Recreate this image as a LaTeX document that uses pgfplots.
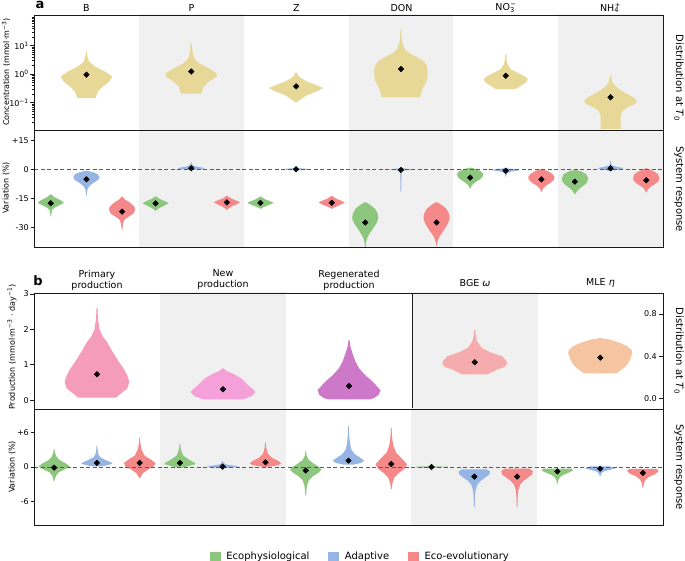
\documentclass[border=0pt]{standalone}
\usepackage{fontspec}
\setmainfont{DejaVu Sans}
\usepackage{pgfplots}
\pgfplotsset{compat=1.18}

\definecolor{khaki}{RGB}{232,216,152}
\definecolor{cg}{RGB}{141,198,125}
\definecolor{cb}{RGB}{150,180,228}
\definecolor{cr}{RGB}{245,136,136}
\definecolor{cpp}{RGB}{245,156,186}
\definecolor{cnp}{RGB}{246,160,218}
\definecolor{crp}{RGB}{205,120,200}
\definecolor{cbge}{RGB}{246,172,172}
\definecolor{cmle}{RGB}{245,196,160}
\definecolor{band}{RGB}{240,240,240}
\definecolor{frame}{RGB}{25,25,25}
\definecolor{zline}{RGB}{90,90,90}

% violin drawn as two mirrored halves: #1 centre, #2 width scale, #3 colour, #4 table (v = value, w = half width)
\newcommand{\violin}[4]{%
  \addplot[fill=#3, draw=none, forget plot] table[row sep=\\, x expr={#1+#2*\thisrow{w}}, y=v] {#4};
  \addplot[fill=#3, draw=none, forget plot] table[row sep=\\, x expr={#1-#2*\thisrow{w}}, y=v] {#4};
}
\newcommand{\lab}{\fontsize{9.5}{11}\selectfont}
\newcommand{\tlab}{\fontsize{8}{9.5}\selectfont}

\pgfplotsset{
  vbase/.style={scale only axis, axis on top, clip=true, anchor=south west,
    xtick=\empty, tick align=outside, ytick pos=left,
    major tick length=3.5pt, minor tick length=2pt,
    tick style={frame, line width=0.6pt},
    axis line style={frame, line width=0.9pt},
    yticklabel style={font=\tlab, inner sep=1.5pt},
    /pgf/number format/assume math mode=true},
  med/.style={only marks, mark=square*, mark size=2pt, mark options={rotate=45, fill=black, draw=black}, forget plot},
  zl/.style={dash pattern=on 4pt off 2.5pt, color=zline, line width=0.8pt, forget plot},
}

\begin{document}
\begin{tikzpicture}
\useasboundingbox (0pt,0pt) rectangle (685pt,561pt);

% ---------------- panel a: distribution ----------------
\begin{axis}[vbase, at={(34pt,431pt)}, width=629pt, height=115pt,
  xmin=-0.5, xmax=5.5, ymode=log, ymin=0.011, ymax=120,
  ytick={0.1,1,10}, yticklabels={10\textsuperscript{−1},10\textsuperscript{0},10\textsuperscript{1}},
  minor ytick={0.02,0.03,0.04,0.05,0.06,0.07,0.08,0.09,0.2,0.3,0.4,0.5,0.6,0.7,0.8,0.9,2,3,4,5,6,7,8,9,20,30,40,50,60,70,80,90,100}]
\addplot[fill=band, draw=none, forget plot] coordinates {(0.5,0.001) (1.5,0.001) (1.5,1000) (0.5,1000)};
\addplot[fill=band, draw=none, forget plot] coordinates {(2.5,0.001) (3.5,0.001) (3.5,1000) (2.5,1000)};
\addplot[fill=band, draw=none, forget plot] coordinates {(4.5,0.001) (5.5,0.001) (5.5,1000) (4.5,1000)};
\violin{0}{1}{khaki}{v w\\ 6.3 -0.003\\ 6.3 0.003\\ 4.2 0.01\\ 2.81 0.025\\ 1.88 0.08\\ 1.25 0.175\\ 0.84 0.245\\ 0.56 0.22\\ 0.373 0.16\\ 0.25 0.11\\ 0.146 0.087\\ 0.146 -0.003\\}
\violin{1}{1}{khaki}{v w\\ 12.4 -0.003\\ 12.4 0.003\\ 7.2 0.01\\ 3.7 0.025\\ 2.47 0.07\\ 1.65 0.16\\ 1.10 0.24\\ 0.84 0.245\\ 0.56 0.17\\ 0.373 0.12\\ 0.207 0.095\\ 0.207 -0.003\\}
\violin{2}{1}{khaki}{v w\\ 1.16 -0.003\\ 1.16 0.003\\ 0.80 0.03\\ 0.56 0.1\\ 0.43 0.18\\ 0.33 0.26\\ 0.25 0.2\\ 0.18 0.1\\ 0.127 0.04\\ 0.106 0.01\\ 0.106 -0.003\\}
\violin{3}{1}{khaki}{v w\\ 38.5 -0.003\\ 38.5 0.003\\ 21.3 0.006\\ 12.4 0.015\\ 7.2 0.04\\ 5.5 0.08\\ 4.2 0.14\\ 2.81 0.22\\ 1.88 0.25\\ 1.25 0.255\\ 0.64 0.25\\ 0.33 0.21\\ 0.154 0.18\\ 0.154 -0.003\\}
\violin{4}{1}{khaki}{v w\\ 5.1 -0.003\\ 5.1 0.003\\ 3.2 0.008\\ 2.15 0.02\\ 1.44 0.055\\ 0.96 0.15\\ 0.75 0.2\\ 0.64 0.21\\ 0.5 0.19\\ 0.43 0.16\\ 0.30 0.095\\ 0.30 -0.003\\}
\violin{5}{1}{khaki}{v w\\ 0.885 -0.003\\ 0.885 0.003\\ 0.56 0.015\\ 0.40 0.04\\ 0.28 0.09\\ 0.219 0.14\\ 0.16 0.21\\ 0.125 0.245\\ 0.105 0.25\\ 0.085 0.22\\ 0.065 0.15\\ 0.05 0.11\\ 0.035 0.095\\ 0.008 0.095\\ 0.008 -0.003\\}
\addplot[med] coordinates {(0,0.96) (1,1.25) (2,0.373) (3,1.52) (4,0.885) (5,0.155)};
\end{axis}

% ---------------- panel a: response ----------------
\begin{axis}[vbase, at={(34pt,314pt)}, width=629pt, height=117pt,
  xmin=-0.5, xmax=5.5, ymin=-40.2, ymax=20.3,
  ytick={-30,-15,0,15}, yticklabels={-30,-15,0,+15}]
\addplot[fill=band, draw=none, forget plot] coordinates {(0.5,-50) (1.5,-50) (1.5,50) (0.5,50)};
\addplot[fill=band, draw=none, forget plot] coordinates {(2.5,-50) (3.5,-50) (3.5,50) (2.5,50)};
\addplot[fill=band, draw=none, forget plot] coordinates {(4.5,-50) (5.5,-50) (5.5,50) (4.5,50)};
\violin{-0.34}{0.125}{cg}{v w\\ -13 -0.02\\ -13 0.02\\ -14.5 0.3\\ -16 0.75\\ -17.3 1\\ -18.5 0.7\\ -19.8 0.3\\ -21 0.1\\ -23 0.04\\ -24.5 0.01\\ -24.5 -0.02\\}
\violin{0}{0.125}{cb}{v w\\ -0.9 -0.02\\ -0.9 0.1\\ -1.5 0.5\\ -2.5 0.85\\ -4 1\\ -5.5 0.9\\ -7 0.55\\ -8.5 0.25\\ -10 0.1\\ -11.5 0.05\\ -13.7 0.01\\ -13.7 -0.02\\}
\violin{0.34}{0.125}{cr}{v w\\ -14.1 -0.02\\ -14.1 0.02\\ -15.5 0.2\\ -17.5 0.65\\ -19.5 0.95\\ -21 1\\ -23 0.85\\ -24.5 0.5\\ -26 0.2\\ -28 0.08\\ -31.4 0.01\\ -31.4 -0.02\\}
\violin{0.66}{0.125}{cg}{v w\\ -14.1 -0.02\\ -14.1 0.03\\ -15.5 0.35\\ -16.8 0.8\\ -17.6 1\\ -18.5 0.75\\ -19.8 0.35\\ -21 0.08\\ -21.6 0.01\\ -21.6 -0.02\\}
\violin{1}{0.125}{cb}{v w\\ 3.6 -0.02\\ 3.6 0.01\\ 2.5 0.05\\ 1.5 0.3\\ 0.8 0.9\\ 0.3 1\\ -0.1 0.6\\ -0.4 0.01\\ -0.4 -0.02\\}
\violin{1.34}{0.125}{cr}{v w\\ -13.8 -0.02\\ -13.8 0.03\\ -15.2 0.35\\ -16.4 0.8\\ -17.1 1\\ -18 0.75\\ -19.3 0.35\\ -20.5 0.08\\ -21.1 0.01\\ -21.1 -0.02\\}
\violin{1.66}{0.125}{cg}{v w\\ -14.1 -0.02\\ -14.1 0.03\\ -15.5 0.35\\ -16.7 0.8\\ -17.4 1\\ -18.2 0.75\\ -19.3 0.35\\ -20.1 0.08\\ -20.5 0.01\\ -20.5 -0.02\\}
\violin{2}{0.125}{cb}{v w\\ 0.6 -0.02\\ 0.6 0.01\\ 0.2 0.9\\ 0 1\\ -0.2 0.9\\ -0.6 0.01\\ -0.6 -0.02\\}
\violin{2.34}{0.125}{cr}{v w\\ -13.8 -0.02\\ -13.8 0.03\\ -15.2 0.35\\ -16.5 0.8\\ -17.3 1\\ -18.1 0.75\\ -19.3 0.35\\ -20.1 0.08\\ -20.5 0.01\\ -20.5 -0.02\\}
\violin{2.66}{0.125}{cg}{v w\\ -17.1 -0.02\\ -17.1 0.05\\ -18.5 0.4\\ -20.5 0.75\\ -23 0.95\\ -25.5 1\\ -28 0.85\\ -30.5 0.6\\ -33 0.35\\ -35.5 0.15\\ -38 0.05\\ -41 0.02\\ -41 -0.02\\}
\violin{3}{0.125}{cb}{v w\\ 0.6 -0.02\\ 0.6 0.02\\ 0.2 0.5\\ -0.1 1\\ -0.5 0.4\\ -1 0.08\\ -2 0.04\\ -6 0.03\\ -11.6 0.01\\ -11.6 -0.02\\}
\violin{3.34}{0.125}{cr}{v w\\ -17.1 -0.02\\ -17.1 0.05\\ -18.5 0.4\\ -20.5 0.75\\ -23 0.95\\ -25 1\\ -27.5 0.9\\ -30 0.7\\ -32.5 0.45\\ -35 0.2\\ -37.5 0.07\\ -39.5 0.02\\ -39.5 -0.02\\}
\violin{3.66}{0.125}{cg}{v w\\ 0.8 -0.02\\ 0.8 0.05\\ 0 0.5\\ -1.2 0.85\\ -2.5 1\\ -3.8 0.95\\ -5 0.8\\ -6.3 0.5\\ -7.5 0.25\\ -8.7 0.1\\ -9.9 0.02\\ -9.9 -0.02\\}
\violin{4}{0.125}{cb}{v w\\ 0.5 -0.02\\ 0.5 0.05\\ 0 0.8\\ -0.6 1\\ -1.2 0.4\\ -2 0.1\\ -3 0.04\\ -3.8 0.01\\ -3.8 -0.02\\}
\violin{4.34}{0.125}{cr}{v w\\ 0 -0.02\\ 0 0.05\\ -1 0.5\\ -2.5 0.85\\ -4 1\\ -5.5 0.95\\ -7 0.7\\ -8.5 0.35\\ -10 0.12\\ -11.6 0.02\\ -11.6 -0.02\\}
\violin{4.66}{0.125}{cg}{v w\\ -0.35 -0.02\\ -0.35 0.05\\ -1.2 0.5\\ -2.5 0.85\\ -4.5 1\\ -6.5 0.95\\ -8 0.75\\ -9.5 0.45\\ -11 0.2\\ -12.8 0.02\\ -12.8 -0.02\\}
\violin{5}{0.125}{cb}{v w\\ 4.3 -0.02\\ 4.3 0.01\\ 3 0.04\\ 2 0.1\\ 1.2 0.5\\ 0.6 1\\ 0 0.8\\ -0.5 0.3\\ -0.9 0.01\\ -0.9 -0.02\\}
\violin{5.34}{0.125}{cr}{v w\\ 0.5 -0.02\\ 0.5 0.05\\ -0.8 0.5\\ -2.5 0.9\\ -4.5 1\\ -6 0.95\\ -7.5 0.7\\ -9 0.35\\ -10.5 0.12\\ -12 0.02\\ -12 -0.02\\}
\addplot[zl] coordinates {(-0.5,0) (5.5,0)};
\addplot[med] coordinates {(-0.34,-17.6) (0,-5.2) (0.34,-21.9) (0.66,-17.6) (1,0.5) (1.34,-17.1) (1.66,-17.4) (2,0) (2.34,-17.3) (2.66,-27.5) (3,-0.37) (3.34,-27.5) (3.66,-4.3) (4,-0.8) (4.34,-5.2) (4.66,-6.4) (5,0.5) (5.34,-5.7)};
\end{axis}

% ---------------- panel b: distribution (production) ----------------
\begin{axis}[vbase, at={(34pt,152pt)}, width=378pt, height=116pt,
  xmin=-0.5, xmax=2.5, ymin=-0.25, ymax=3.03,
  ytick={0,1,2,3}, yticklabels={0,1,2,3}]
\addplot[fill=band, draw=none, forget plot] coordinates {(0.5,-1) (1.5,-1) (1.5,4) (0.5,4)};
\violin{0}{1}{cpp}{v w\\ 2.6 -0.003\\ 2.6 0.003\\ 2.3 0.008\\ 2.0 0.02\\ 1.8 0.045\\ 1.64 0.08\\ 1.45 0.11\\ 1.26 0.143\\ 1.1 0.17\\ 0.9 0.21\\ 0.7 0.24\\ 0.52 0.257\\ 0.33 0.24\\ 0.19 0.19\\ 0.07 0.15\\ 0.07 -0.003\\}
\violin{1}{1}{cnp}{v w\\ 0.9 -0.003\\ 0.9 0.003\\ 0.82 0.03\\ 0.75 0.08\\ 0.61 0.146\\ 0.42 0.2\\ 0.3 0.24\\ 0.23 0.257\\ 0.12 0.23\\ 0.05 0.18\\ 0.02 0.15\\ 0.02 -0.003\\}
\violin{2}{1}{crp}{v w\\ 1.7 -0.003\\ 1.7 0.003\\ 1.5 0.012\\ 1.3 0.03\\ 1.1 0.05\\ 0.9 0.08\\ 0.7 0.13\\ 0.55 0.18\\ 0.4 0.22\\ 0.28 0.25\\ 0.15 0.235\\ 0.06 0.2\\ 0.02 0.16\\ 0.02 -0.003\\}
\addplot[med] coordinates {(0,0.73) (1,0.31) (2,0.4)};
\end{axis}

% ---------------- panel b: distribution (efficiencies) ----------------
\begin{axis}[vbase, at={(412pt,152pt)}, width=251pt, height=116pt,
  xmin=2.5, xmax=4.5, ymin=-0.1, ymax=1.0, ytick pos=right, tick align=inside,
  major tick length=4pt,
  yticklabel style={anchor=east, xshift=-4.5pt},
  ytick={0,0.4,0.8}, yticklabels={0.0,0.4,0.8}]
\addplot[fill=band, draw=none, forget plot] coordinates {(2.5,-1) (3.5,-1) (3.5,2) (2.5,2)};
\violin{3}{1}{cbge}{v w\\ 0.65 -0.003\\ 0.65 0.003\\ 0.6 0.008\\ 0.54 0.02\\ 0.48 0.055\\ 0.44 0.12\\ 0.4 0.218\\ 0.36 0.25\\ 0.33 0.258\\ 0.3 0.24\\ 0.27 0.17\\ 0.24 0.12\\ 0.228 0.1\\ 0.228 -0.003\\}
\violin{4}{1}{cmle}{v w\\ 0.571 -0.003\\ 0.571 0.01\\ 0.56 0.07\\ 0.53 0.15\\ 0.5 0.21\\ 0.46 0.25\\ 0.43 0.256\\ 0.4 0.245\\ 0.37 0.24\\ 0.33 0.22\\ 0.3 0.2\\ 0.27 0.165\\ 0.238 0.13\\ 0.238 -0.003\\}
\addplot[med] coordinates {(3,0.343) (4,0.387)};
\end{axis}

% ---------------- panel b: response ----------------
\begin{axis}[vbase, at={(34pt,36pt)}, width=629pt, height=116pt,
  xmin=-0.5, xmax=4.5, ymin=-10, ymax=10,
  ytick={-6,0,6}, yticklabels={-6,0,+6},
  legend style={at={(0.519,-0.27)}, anchor=center, draw=none, fill=none,
    font=\fontsize{10}{12}\selectfont, legend columns=3,
    /tikz/every odd column/.append style={column sep=4pt},
    /tikz/every even column/.append style={column sep=17pt}},
  legend cell align=left]
\addplot[fill=band, draw=none, forget plot] coordinates {(0.5,-20) (1.5,-20) (1.5,20) (0.5,20)};
\addplot[fill=band, draw=none, forget plot] coordinates {(2.5,-20) (3.5,-20) (3.5,20) (2.5,20)};
\violin{-0.34}{0.125}{cg}{v w\\ 3.1 -0.02\\ 3.1 0.01\\ 2.5 0.05\\ 1.8 0.15\\ 1.2 0.35\\ 0.6 0.75\\ 0.1 1\\ -0.4 0.7\\ -0.9 0.3\\ -1.5 0.12\\ -2.0 0.06\\ -2.5 0.01\\ -2.5 -0.02\\}
\violin{0}{0.125}{cb}{v w\\ 3.7 -0.02\\ 3.7 0.01\\ 3.0 0.04\\ 2.3 0.08\\ 1.7 0.2\\ 1.2 0.55\\ 0.8 0.9\\ 0.6 1\\ 0.4 0.8\\ 0.2 0.5\\ 0.1 0.2\\ 0.1 -0.02\\}
\violin{0.34}{0.125}{cr}{v w\\ 5 -0.02\\ 5 0.01\\ 4 0.05\\ 3 0.12\\ 2 0.3\\ 1.3 0.7\\ 0.7 1\\ 0.1 0.9\\ -0.5 0.5\\ -1.1 0.2\\ -1.9 0.02\\ -1.9 -0.02\\}
\violin{0.66}{0.125}{cg}{v w\\ 4 -0.02\\ 4 0.01\\ 3 0.06\\ 2 0.2\\ 1.3 0.55\\ 0.8 0.9\\ 0.5 1\\ 0.2 0.6\\ -0.17 0.1\\ -0.17 -0.02\\}
\violin{1}{0.125}{cb}{v w\\ 1.0 -0.02\\ 1.0 0.01\\ 0.7 0.05\\ 0.4 0.25\\ 0.2 0.8\\ 0.05 1\\ -0.05 0.7\\ -0.2 0.05\\ -0.2 -0.02\\}
\violin{1.34}{0.125}{cr}{v w\\ 4.26 -0.02\\ 4.26 0.01\\ 3.3 0.05\\ 2.3 0.15\\ 1.6 0.4\\ 1.0 0.85\\ 0.6 1\\ 0.3 0.8\\ 0 0.1\\ 0 -0.02\\}
\violin{1.66}{0.125}{cg}{v w\\ 2.7 -0.02\\ 2.7 0.01\\ 2 0.05\\ 1.2 0.2\\ 0.5 0.55\\ 0 0.85\\ -0.45 1\\ -1 0.8\\ -1.6 0.45\\ -2.3 0.2\\ -3.2 0.08\\ -4.9 0.01\\ -4.9 -0.02\\}
\violin{2}{0.125}{cb}{v w\\ 7.1 -0.02\\ 7.1 0.01\\ 6 0.03\\ 5 0.06\\ 4 0.1\\ 3 0.18\\ 2.2 0.4\\ 1.6 0.75\\ 1.1 1\\ 0.7 0.8\\ 0.4 0.3\\ 0.4 -0.02\\}
\violin{2.34}{0.125}{cr}{v w\\ 6.7 -0.02\\ 6.7 0.01\\ 5.5 0.04\\ 4.5 0.08\\ 3.5 0.15\\ 2.5 0.3\\ 1.5 0.65\\ 0.5 1\\ -0.3 0.85\\ -1 0.5\\ -1.8 0.2\\ -2.7 0.08\\ -3.8 0.01\\ -3.8 -0.02\\}
\violin{2.66}{0.125}{cg}{v w\\ 0.15 -0.02\\ 0.15 0.01\\ 0.05 1\\ -0.05 1\\ -0.15 0.01\\ -0.15 -0.02\\}
\violin{3}{0.125}{cb}{v w\\ -0.4 -0.02\\ -0.4 0.8\\ -0.8 1\\ -1.3 0.95\\ -1.8 0.7\\ -2.4 0.4\\ -3 0.2\\ -4 0.08\\ -5 0.04\\ -6.9 0.01\\ -6.9 -0.02\\}
\violin{3.34}{0.125}{cr}{v w\\ -0.3 -0.02\\ -0.3 0.8\\ -0.7 1\\ -1.3 0.95\\ -1.8 0.7\\ -2.4 0.4\\ -3 0.2\\ -4 0.08\\ -5 0.04\\ -6.9 0.01\\ -6.9 -0.02\\}
\violin{3.66}{0.125}{cg}{v w\\ -0.3 -0.02\\ -0.3 0.9\\ -0.6 1\\ -1 0.7\\ -1.4 0.35\\ -1.8 0.15\\ -2.3 0.06\\ -2.9 0.01\\ -2.9 -0.02\\}
\violin{4}{0.125}{cb}{v w\\ 0.11 -0.02\\ 0.11 0.6\\ -0.2 1\\ -0.5 0.6\\ -0.8 0.2\\ -1.2 0.06\\ -1.6 0.01\\ -1.6 -0.02\\}
\violin{4.34}{0.125}{cr}{v w\\ -0.34 -0.02\\ -0.34 0.9\\ -0.7 1\\ -1.2 0.8\\ -1.6 0.45\\ -2.1 0.2\\ -2.7 0.07\\ -3.6 0.01\\ -3.6 -0.02\\}
\addplot[zl] coordinates {(-0.5,0) (4.5,0)};
\addplot[med] coordinates {(-0.34,-0.12) (0,0.7) (0.34,0.7) (0.66,0.7) (1,0.06) (1.34,0.8) (1.66,-0.6) (2,1.1) (2.34,0.52) (2.66,0) (3,-1.66) (3.34,-1.66) (3.66,-0.75) (4,-0.3) (4.34,-1.03)};
\addlegendimage{legend image code/.code={\fill[cg] (0pt,-4.5pt) rectangle (10pt,4.5pt);}}
\addlegendentry{Ecophysiological}
\addlegendimage{legend image code/.code={\fill[cb] (0pt,-4.5pt) rectangle (10pt,4.5pt);}}
\addlegendentry{Adaptive}
\addlegendimage{legend image code/.code={\fill[cr] (0pt,-4.5pt) rectangle (10pt,4.5pt);}}
\addlegendentry{Eco-evolutionary}
\end{axis}

% ---------------- text ----------------
\node[font=\bfseries\fontsize{13}{13}\selectfont] at (40pt,556pt) {a};
\node[font=\lab] at (86.5pt,553pt) {B};
\node[font=\lab] at (191.5pt,553pt) {P};
\node[font=\lab] at (296.5pt,553pt) {Z};
\node[font=\lab] at (401.5pt,553pt) {DON};
\node[font=\lab] at (506pt,553pt) {NO\textsubscript{3}\kern-0.45em\textsuperscript{−}};
\node[font=\lab] at (610.5pt,553pt) {NH\textsubscript{4}\kern-0.45em\textsuperscript{+}};

\node[font=\bfseries\fontsize{13}{13}\selectfont] at (38pt,280pt) {b};
\node[font=\lab, align=center] at (97pt,281pt) {Primary\\production};
\node[font=\lab, align=center] at (223pt,281pt) {New\\production};
\node[font=\lab, align=center] at (349pt,281pt) {Regenerated\\production};
\node[font=\lab] at (475pt,278pt) {BGE \textit{ω}};
\node[font=\lab] at (600.5pt,278pt) {MLE \textit{η}};

\node[font=\tlab, rotate=90] at (6pt,489pt) {Concentration (mmol·m\textsuperscript{−3})};
\node[font=\tlab, rotate=90] at (6pt,373pt) {Variation (\%)};
\node[font=\tlab, rotate=90] at (12pt,214pt) {Production (mmol·m\textsuperscript{−3} · day\textsuperscript{−1})};
\node[font=\tlab, rotate=90] at (12pt,94pt) {Variation (\%)};

\node[font=\fontsize{10}{12}\selectfont, rotate=-90] at (679pt,483pt) {Distribution at \textit{T}\textsubscript{0}};
\node[font=\fontsize{10}{12}\selectfont, rotate=-90] at (679pt,372pt) {System response};
\node[font=\fontsize{10}{12}\selectfont, rotate=-90] at (679pt,210pt) {Distribution at \textit{T}\textsubscript{0}};
\node[font=\fontsize{10}{12}\selectfont, rotate=-90] at (679pt,94pt) {System response};
\end{tikzpicture}
\end{document}
